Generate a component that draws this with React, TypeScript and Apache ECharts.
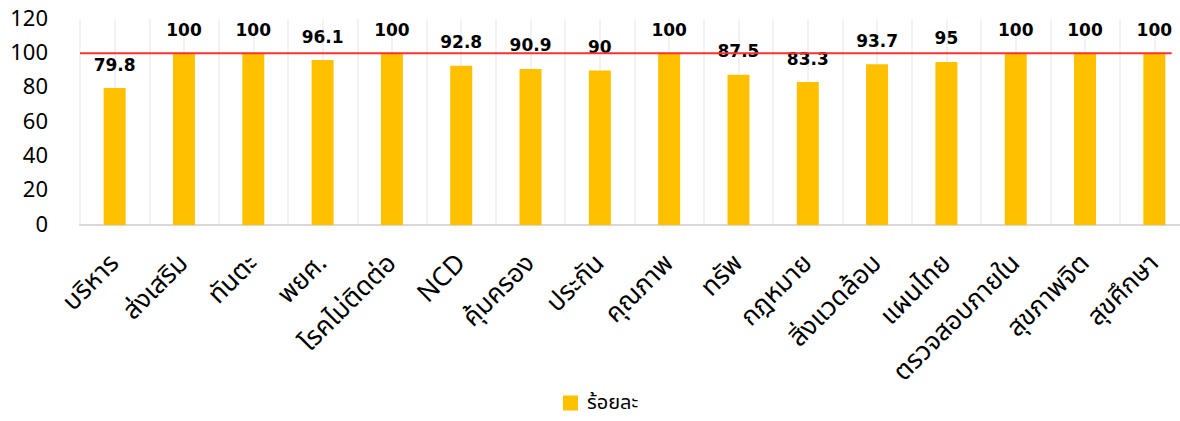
import React, { useEffect, useRef } from "react";
import * as echarts from "echarts";

const categories = [
  "บริหาร",
  "ส่งเสริม",
  "ทันตะ",
  "พยศ.",
  "โรคไม่ติดต่อ",
  "NCD",
  "คุ้มครอง",
  "ประกัน",
  "คุณภาพ",
  "ทรัพ",
  "กฎหมาย",
  "สิ่งแวดล้อม",
  "แผนไทย",
  "ตรวจสอบภายใน",
  "สุขภาพจิต",
  "สุขศึกษา",
];

const percentValues = [79.8, 100, 100, 96.1, 100, 92.8, 90.9, 90, 100, 87.5, 83.3, 93.7, 95, 100, 100, 100];

const targetLine = [
  [0, 100],
  [15.75, 100],
];

const seriesName = "ร้อยละ";

const FONT = '"Noto Sans Thai", "Noto Sans", "DejaVu Sans", sans-serif';

export default function App() {
  const ref = useRef<HTMLDivElement>(null);

  useEffect(() => {
    if (!ref.current) return;
    const chart = echarts.init(ref.current, null, { renderer: "svg" });
    chart.setOption({
      animation: false,
      backgroundColor: "#ffffff",
      textStyle: { fontFamily: FONT },
      grid: { left: 80, right: 11, top: 19, bottom: 196, containLabel: false },
      legend: {
        data: [seriesName],
        bottom: 8,
        left: 563,
        padding: 0,
        itemWidth: 15,
        itemHeight: 15,
        itemGap: 8,
        icon: "rect",
        textStyle: { fontSize: 20, lineHeight: 18, color: "#000", fontFamily: FONT, padding: [0, 0, 0, 4] },
      },
      xAxis: [
        {
          type: "category",
          data: categories,
          axisLine: { show: true, lineStyle: { color: "#D9D9D9", width: 2 } },
          axisTick: { show: false },
          splitLine: { show: false },
          axisLabel: {
            rotate: 45,
            interval: 0,
            margin: 34,
            fontSize: 26,
            color: "#000",
            fontFamily: FONT,
          },
        },
        {
          type: "value",
          min: 0,
          max: 16,
          interval: 0.5,
          show: true,
          position: "bottom",
          axisLine: { show: false },
          axisTick: { show: false },
          axisLabel: { show: false },
          splitLine: { show: true, lineStyle: { color: "#EEEEEE", width: 1.5 } },
        },
      ],
      yAxis: {
        type: "value",
        min: 0,
        max: 120,
        interval: 20,
        axisLine: { show: false },
        axisTick: { show: false },
        splitLine: { show: false },
        axisLabel: { margin: 32, fontSize: 22, color: "#000", fontFamily: FONT },
      },
      series: [
        {
          name: seriesName,
          type: "bar",
          xAxisIndex: 0,
          data: percentValues,
          barWidth: 22,
          itemStyle: { color: "#FFC000" },
          label: {
            show: true,
            position: "top",
            distance: 15,
            fontSize: 17,
            fontWeight: "bold",
            color: "#000",
            fontFamily: '"DejaVu Sans", sans-serif',
          },
          z: 3,
        },
        {
          name: "target",
          type: "line",
          xAxisIndex: 1,
          data: targetLine,
          symbol: "none",
          lineStyle: { color: "#FF3030", width: 2 },
          z: 4,
        },
      ],
    });
    return () => chart.dispose();
  }, []);

  return (
    <div style={{ position: "absolute", left: 0, top: 0, width: 1180, height: 421, overflow: "hidden" }}>
      <div ref={ref} style={{ width: 1200, height: 421 }} />
    </div>
  );
}
